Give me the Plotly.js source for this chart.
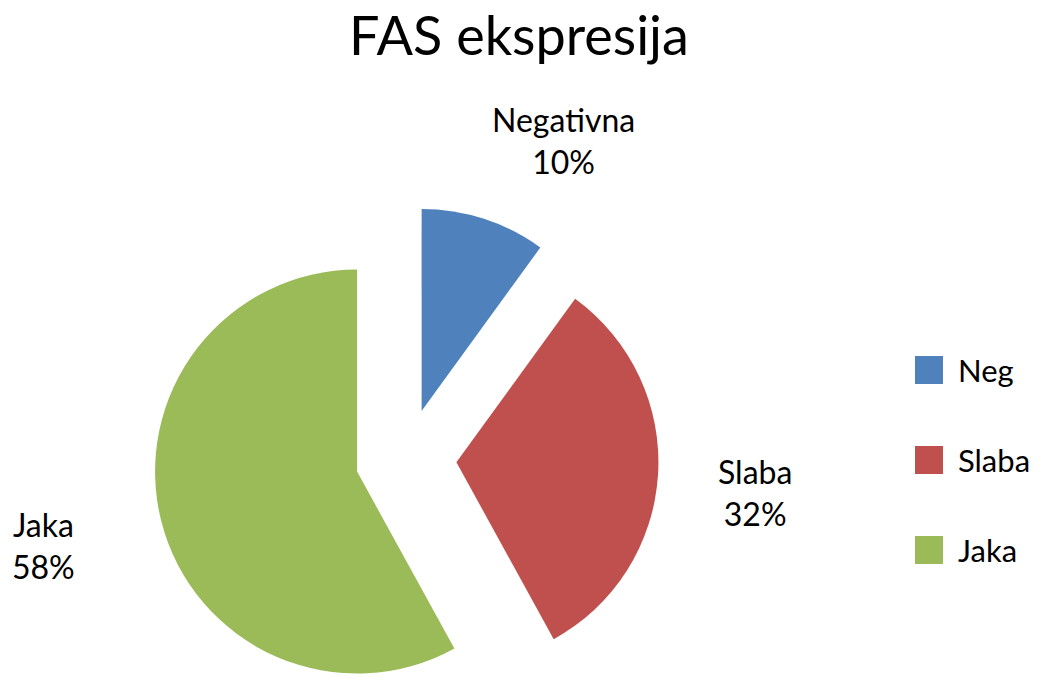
<!DOCTYPE html>
<html>
<head>
<meta charset="utf-8">
<script src="https://cdn.plot.ly/plotly-3.0.1.min.js"></script>
<style>
html, body { margin: 0; padding: 0; overflow: hidden; background: #fff; }
#chart { width: 1039px; height: 780px; }
</style>
</head>
<body>
<div id="chart"></div>
<script>
// Data
const legendLabels = ["Neg", "Slaba", "Jaka"];
const sliceNames = ["Negativna", "Slaba", "Jaka"];
const values = [10, 32, 58];
const colors = ["#4F81BD", "#C0504D", "#9BBB59"];
const chartTitle = "FAS ekspresija";

// Layout helpers (figure is taller than the window; bottom gets cropped)
const W = 1039, H = 780;
const px = x => x / W;
const py = y => 1 - y / H;

const FONT = "Lato, 'Open Sans', sans-serif";

const cx = 406, cy = 459, R = 202, pullFrac = 0.25;
const half = R * (1 + pullFrac);

const total = values.reduce((a, b) => a + b, 0);

// Outside label positions (text block centres)
const labelPos = [
  {x: 563, y: 140},
  {x: 755, y: 492},
  {x: 43, y: 545}
];

const annotations = [];
sliceNames.forEach((n, i) => {
  const pct = Math.round(values[i] / total * 100);
  annotations.push({
    text: n + "<br>" + pct + "%",
    x: px(labelPos[i].x), y: py(labelPos[i].y),
    xref: "paper", yref: "paper",
    xanchor: "center", yanchor: "middle", align: "center",
    showarrow: false,
    font: {family: FONT, size: 32, color: "#000"}
  });
});

// Manual legend
const legX = 915, legSize = 28, legY0 = 370, legGap = 90, legTextX = 956;
const shapes = [];
legendLabels.forEach((l, i) => {
  const yc = legY0 + i * legGap;
  shapes.push({
    type: "rect", xref: "paper", yref: "paper",
    x0: px(legX), x1: px(legX + legSize),
    y0: py(yc + legSize / 2), y1: py(yc - legSize / 2),
    fillcolor: colors[i], line: {width: 0}
  });
  annotations.push({
    text: l, x: px(legTextX), y: py(yc),
    xref: "paper", yref: "paper", xanchor: "left", yanchor: "middle",
    showarrow: false,
    font: {family: FONT, size: 31, color: "#000"}
  });
});

const trace = {
  type: "pie",
  labels: legendLabels,
  values: values,
  marker: {colors: colors, line: {width: 0}},
  sort: false,
  direction: "clockwise",
  rotation: 0,
  pull: values.map(() => pullFrac),
  textinfo: "none",
  hoverinfo: "label+percent",
  showlegend: false,
  domain: {
    x: [px(cx - half), px(cx + half)],
    y: [py(cy + half), py(cy - half)]
  }
};

const layout = {
  width: W, height: H,
  margin: {l: 0, r: 0, t: 0, b: 0},
  paper_bgcolor: "#fff",
  showlegend: false,
  title: {
    text: chartTitle,
    x: px(519), xanchor: "center",
    y: py(36), yanchor: "middle", yref: "container",
    font: {family: FONT, size: 54, color: "#000"}
  },
  annotations: annotations,
  shapes: shapes
};

Plotly.newPlot("chart", [trace], layout, {displayModeBar: false, staticPlot: true});
</script>
</body>
</html>
